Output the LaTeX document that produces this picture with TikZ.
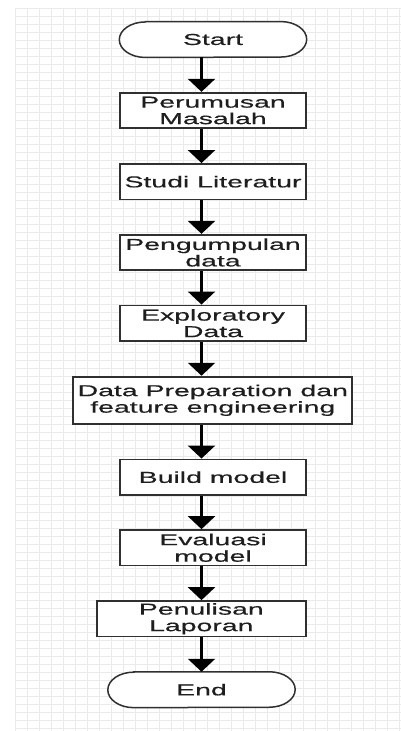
\documentclass[tikz,border=0pt]{standalone}
\usepackage{fontspec}
\newfontfamily\boxfont[FakeStretch=1.8,FakeBold=0.4]{Liberation Sans}
\usetikzlibrary{arrows.meta}
\definecolor{boxline}{HTML}{303030}
\definecolor{textcol}{HTML}{1E1E1E}
\definecolor{gridcol}{HTML}{EAEAEA}
\begin{document}
\begin{tikzpicture}[x=1pt,y=1pt,
  box/.style={draw=boxline, line width=1.8pt, fill=white, minimum width=186pt,
    minimum height=35.5pt, inner sep=0pt, align=center, text=textcol,
    font=\boxfont\fontsize{15.8}{16.5}\selectfont},
  term/.style={minimum width=187pt, minimum height=35.5pt, inner sep=0pt,
    text=textcol, font=\boxfont\fontsize{15.8}{16.5}\selectfont},
  termline/.style={draw=boxline, line width=1.5pt, fill=white},
  flow/.style={line width=2.6pt, draw=black, -{Triangle[width=27pt,length=13pt]}},
  gridline/.style={draw=gridcol, line width=0.7pt}]

% page and background grid
\useasboundingbox (0,0) rectangle (401,-731);
\fill[white] (0,0) rectangle (401,-731);
\foreach \i in {0,...,32} \draw[gridline] (15+12*\i,-8) -- (15+12*\i,-731);
\foreach \j in {0,...,90} \draw[gridline] (15,-8-8*\j) -- (401,-8-8*\j);

% vertical axis of the connectors
\coordinate (axis) at (201.5,0);

% terminal shapes: flat top and bottom with elliptic ends
\node[term] (st) at (213,-39.5) {};
\draw[termline] ([xshift=26pt]st.north west) -- ([xshift=-26pt]st.north east)
  arc[start angle=90,end angle=-90,x radius=26pt,y radius=17.75pt]
  -- ([xshift=26pt]st.south west)
  arc[start angle=270,end angle=90,x radius=26pt,y radius=17.75pt] -- cycle;
\node[term] at (st) {Start};

\node[term] (en) at (201.5,-689.7) {};
\draw[termline] ([xshift=26pt]en.north west) -- ([xshift=-26pt]en.north east)
  arc[start angle=90,end angle=-90,x radius=26pt,y radius=17.75pt]
  -- ([xshift=26pt]en.south west)
  arc[start angle=270,end angle=90,x radius=26pt,y radius=17.75pt] -- cycle;
\node[term] at (en) {End};

% process steps
\node[box] (p1) at (213,-110.5) {Perumusan\\Masalah};
\node[box] (p2) at (213,-181.7) {Studi Literatur};
\node[box] (p3) at (213,-252.5) {Pengumpulan\\data};
\node[box] (p4) at (213,-323.2) {Exploratory\\Data};
\node[box, minimum width=279pt, minimum height=47.3pt] (p5) at (212.8,-400.3)
  {Data Preparation dan\\feature engineering};
\node[box] (p6) at (213,-477.2) {Build model};
\node[box] (p7) at (213,-547.8) {Evaluasi\\model};
\node[box, minimum width=209pt] (p8) at (201.3,-618.8) {Penulisan\\Laporan};

% connectors
\draw[flow] (st.south -| axis) -- (p1.north -| axis);
\draw[flow] (p1.south -| axis) -- (p2.north -| axis);
\draw[flow] (p2.south -| axis) -- (p3.north -| axis);
\draw[flow] (p3.south -| axis) -- (p4.north -| axis);
\draw[flow] (p4.south -| axis) -- (p5.north -| axis);
\draw[flow] (p5.south -| axis) -- (p6.north -| axis);
\draw[flow] (p6.south -| axis) -- (p7.north -| axis);
\draw[flow] (p7.south -| axis) -- (p8.north -| axis);
\draw[flow] (p8.south -| axis) -- (en.north -| axis);
\end{tikzpicture}
\end{document}
